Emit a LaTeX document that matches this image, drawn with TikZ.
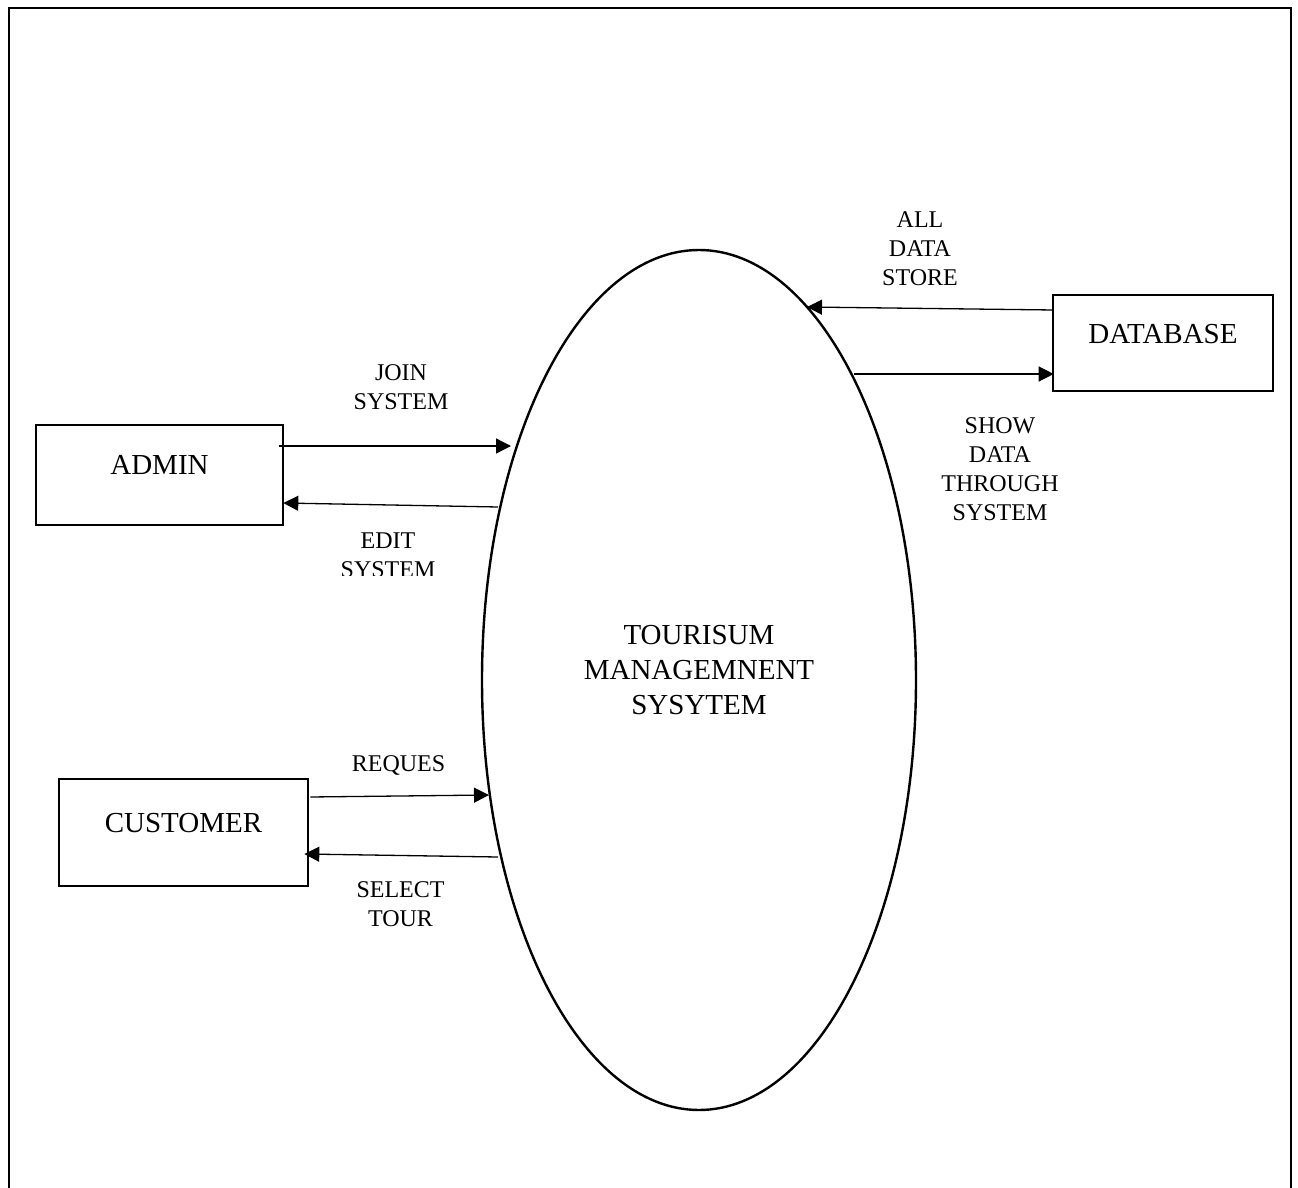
\documentclass[tikz,border=0pt]{standalone}
\usepackage{fontspec}
\setmainfont{Liberation Serif}
\usetikzlibrary{arrows.meta,shapes.geometric}

\tikzset{
  box/.style={draw, line width=1.3pt, rectangle, inner sep=0pt},
  big/.style={font=\fontsize{14.5}{17.5}\selectfont, align=center, inner sep=0pt},
  lbl/.style={font=\fontsize{12}{14.5}\selectfont, align=center, inner sep=0pt},
  flow/.style={line width=0.65pt, -{Triangle[length=7.5pt,width=7.5pt]}},
}

\begin{document}
\begin{tikzpicture}[x=0.5pt, y=-0.5pt]
  \useasboundingbox[fill=white] (0,0) rectangle (1298,1188);

  % page frame, open at the bottom
  \draw[line width=1.3pt] (9,1200) -- (9,8) -- (1291,8) -- (1291,1200);

  % central process
  \node[draw, line width=1.2pt, ellipse, inner sep=0pt,
        minimum width=217pt, minimum height=430pt,
        label={[big, yshift=5pt]center:TOURISUM\\MANAGEMNENT\\SYSYTEM}] (tms) at (699,680) {};

  % external entities
  \node[box, minimum width=123.5pt, minimum height=50pt,
        label={[big, yshift=5pt]center:ADMIN}] (admin) at (159.5,475) {};
  \node[box, minimum width=124.5pt, minimum height=53.5pt,
        label={[big, yshift=4.75pt]center:CUSTOMER}] (customer) at (183.5,832.5) {};
  \node[box, minimum width=110pt, minimum height=48pt,
        label={[big, yshift=4.5pt]center:DATABASE}] (db) at (1163,343) {};

  % points on the process border
  \coordinate (tJoin)  at (511,446);
  \coordinate (tEdit)  at (498,507);
  \coordinate (tReq)   at (489,795);
  \coordinate (tSel)   at (498,857);
  \coordinate (tStore) at (807,307);
  \coordinate (tShow)  at (854,374);

  % data flows
  \draw[flow] ([xshift=-2.5pt, yshift=14.5pt]admin.east) -- (tJoin);
  \draw[flow] (tEdit) -- ([xshift=-0.5pt, yshift=-14pt]admin.east);
  \draw[flow] ([xshift=0.5pt, yshift=17.75pt]customer.east) -- (tReq);
  \draw[flow] (tSel) -- ([xshift=-2.5pt, yshift=-10.75pt]customer.east);
  \draw[flow] ([xshift=1pt, yshift=16.5pt]db.west) -- (tStore);
  \draw[flow] (tShow) -- ([xshift=1pt, yshift=-15.5pt]db.west);

  % flow labels
  \node[lbl] (lJoin) at (401,387.5) {JOIN\\SYSTEM};
  \begin{scope}
    \clip (320,520) rectangle (460,575);
    \node[lbl] (lEdit) at (388,555) {EDIT\\SYSTEM};
  \end{scope}
  \node[lbl] (lReq) at (398.5,765) {REQUES};
  \node[lbl] (lSel) at (400.5,904) {SELECT\\TOUR};
  \node[lbl] (lStore) at (920,248.5) {ALL\\DATA\\STORE};
  \node[lbl] (lShow) at (1000,469.5) {SHOW\\DATA\\THROUGH\\SYSTEM};
\end{tikzpicture}
\end{document}
